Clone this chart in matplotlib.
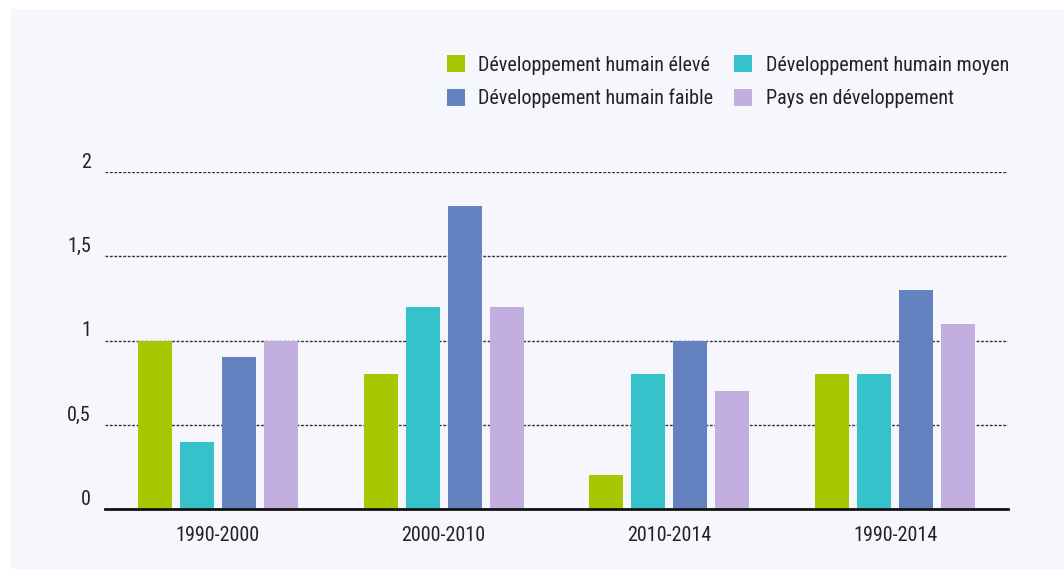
import numpy as np
import matplotlib.pyplot as plt
from matplotlib.patches import Rectangle
from matplotlib import font_manager

# Data
periods = ['1990-2000', '2000-2010', '2010-2014', '1990-2014']
series_names = ['Développement humain élevé', 'Développement humain moyen',
                'Développement humain faible', 'Pays en développement']
eleve = [1.0, 0.8, 0.2, 0.8]
moyen = [0.4, 1.2, 0.8, 0.8]
faible = [0.9, 1.8, 1.0, 1.3]
pays = [1.0, 1.2, 0.7, 1.1]
y_ticks = [0, 0.5, 1, 1.5, 2]
y_tick_labels = ['0', '0,5', '1', '1,5', '2']

colors = ['#a8c700', '#36c2cb', '#6382bf', '#c3aee0']
bg = '#f5f7fc'

# condensed font if available
names = {f.name for f in font_manager.fontManager.ttflist}
fam = [f for f in ['Roboto Condensed', 'Roboto', 'DejaVu Sans'] if f in names]
plt.rcParams['font.family'] = fam[:1] + ['DejaVu Sans']

fig = plt.figure(figsize=(10.64, 5.69), dpi=100)
fig.patch.set_facecolor('white')
fig.patches.append(Rectangle((11 / 1064, 0), 1, 1 - 9 / 569, transform=fig.transFigure,
                             facecolor=bg, edgecolor='none', zorder=-10))

ax = fig.add_axes([105 / 1064, 60 / 569, 903 / 1064, (509 - 172) / 569])
ax.set_facecolor(bg)

x = np.arange(len(periods))
width = 0.15
step = 0.186
bars = []
for i, vals in enumerate([eleve, moyen, faible, pays]):
    b = ax.bar(x + (i - 1.5) * step, vals, width, color=colors[i], label=series_names[i], zorder=3)
    bars.append(b)

ax.set_xlim(-0.5, 3.5)
ax.set_ylim(0, 2)
ax.set_xticks(x)
ax.set_xticklabels(periods, fontsize=14.5, color='#222222')
ax.set_yticks(y_ticks)
ax.set_yticklabels(y_tick_labels, fontsize=14.5, color='#222222')
for lab in ax.get_yticklabels():
    lab.set_va('bottom')
ax.tick_params(axis='both', length=0)
ax.tick_params(axis='y', pad=10)
ax.tick_params(axis='x', pad=12)

for yv in y_ticks[1:]:
    ax.axhline(yv, color='#333333', linestyle=(0, (2, 1.2)), linewidth=1, zorder=1)

for s in ['top', 'right', 'left']:
    ax.spines[s].set_visible(False)
ax.spines['bottom'].set_linewidth(2)
ax.spines['bottom'].set_color('#111111')
ax.spines['bottom'].set_zorder(4)

# legend: column 1 = élevé, faible ; column 2 = moyen, pays
order = [0, 2, 1, 3]
leg = fig.legend([bars[i] for i in order], [series_names[i] for i in order],
                 ncol=2, loc='upper left', bbox_to_anchor=(447 / 1064, 1 - 55 / 569),
                 frameon=False, fontsize=14.5, handlelength=0.89, handleheight=0.94,
                 handletextpad=0.67, columnspacing=1.04, labelspacing=0.7,
                 borderpad=0, borderaxespad=0, labelcolor='#222222')

fig.savefig('out.png', dpi=100, facecolor=fig.get_facecolor())
